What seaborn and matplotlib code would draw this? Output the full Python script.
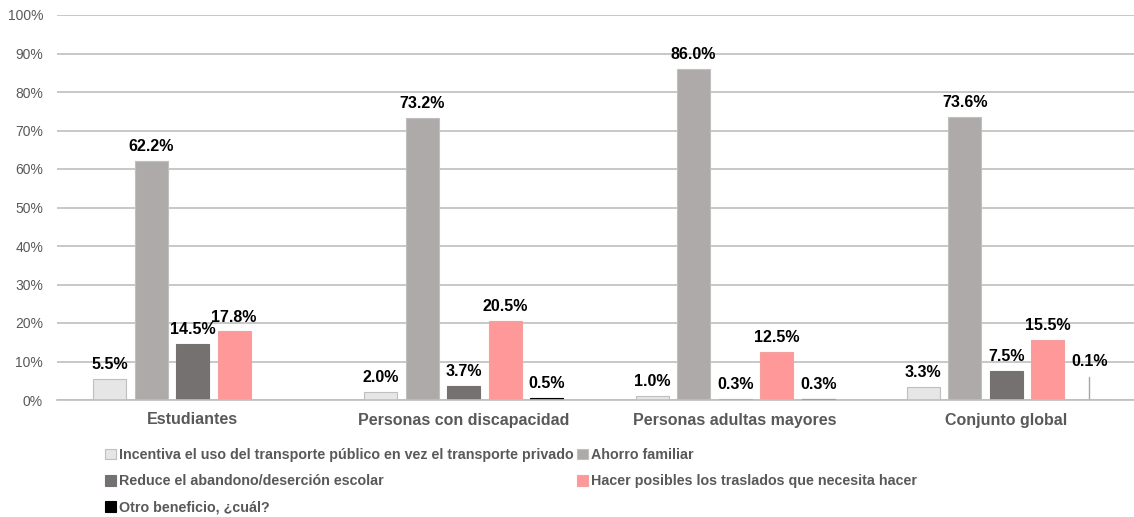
import pandas as pd
import seaborn as sns
import matplotlib.pyplot as plt

# Data (percent)
grupos = ['Estudiantes', 'Personas con discapacidad', 'Personas adultas mayores', 'Conjunto global']
beneficios = [
    'Incentiva el uso del transporte público en vez el transporte privado',
    'Ahorro familiar',
    'Reduce el abandono/deserción escolar',
    'Hacer posibles los traslados que necesita hacer',
    'Otro beneficio, ¿cuál?',
]
incentiva = [5.5, 2.0, 1.0, 3.3]
ahorro = [62.2, 73.2, 86.0, 73.6]
reduce = [14.5, 3.7, 0.3, 7.5]
traslados = [17.8, 20.5, 12.5, 15.5]
otro = [None, 0.5, 0.3, 0.1]

colores = ['#E7E6E6', '#AEAAAA', '#767171', '#FF9999', '#000000']
bordes = ['#BFBFBF', '#BFBFBF', '#767171', '#F2A0A0', '#000000']

rows = []
for serie, vals in zip(beneficios, [incentiva, ahorro, reduce, traslados, otro]):
    for g, v in zip(grupos, vals):
        rows.append({'grupo': g, 'beneficio': serie, 'valor': v})
df = pd.DataFrame(rows).dropna()

sns.set_style('white')
plt.rcParams['font.family'] = ['Liberation Sans', 'DejaVu Sans']

fig = plt.figure(figsize=(11.34, 5.17), dpi=100)
ax = fig.add_axes([57 / 1134, 1 - 400 / 517, (1142 - 57) / 1134, 385 / 517])

sns.barplot(data=df, x='grupo', y='valor', hue='beneficio', order=grupos,
            hue_order=beneficios, palette=colores, saturation=1, width=0.765, gap=0.2,
            linewidth=0.8, ax=ax, legend=True)

ax.set_xlim(-0.5, 3.5)
ax.set_ylim(0, 100)
ax.set_yticks(range(0, 101, 10))
ax.set_yticklabels([f'{t}%' for t in range(0, 101, 10)], fontsize=10, color='#595959')
ax.yaxis.grid(True, color='#BFBFBF', linewidth=1.2)
ax.set_axisbelow(True)
ax.tick_params(axis='both', length=0)
ax.tick_params(axis='y', pad=10)
ax.tick_params(axis='x', pad=9)
for lab in ax.get_xticklabels():
    lab.set_fontsize(11.5)
    lab.set_fontweight('bold')
    lab.set_color('#595959')
ax.set_xlabel('')
ax.set_ylabel('')
for s in ['top', 'left', 'right']:
    ax.spines[s].set_visible(False)
ax.spines['bottom'].set_color('#BFBFBF')
ax.spines['bottom'].set_linewidth(1.2)

# value labels
for i, cont in enumerate(ax.containers):
    for bar in cont:
        bar.set_edgecolor(bordes[i])
        h = bar.get_height()
        x = bar.get_x() + bar.get_width() / 2
        if i == 4 and h < 0.2:
            # tiny value: label lifted up with a leader line
            ax.annotate(f'{h:.1f}%', xy=(x, h), xytext=(x, h + 8),
                        ha='center', va='bottom', fontsize=11.5, fontweight='bold',
                        color='black')
            ax.plot([x, x], [h, 6.0], color='#A6A6A6', linewidth=1)
        else:
            ax.annotate(f'{h:.1f}%', xy=(x, h), xytext=(0, 5),
                        textcoords='offset points', ha='center', va='bottom',
                        fontsize=11.5, fontweight='bold', color='black')

handles, labels = ax.get_legend_handles_labels()
ax.get_legend().remove()
for k, hd in enumerate(handles):
    hd.set_edgecolor(bordes[k])
order = [0, 2, 4, 1, 3]
fig.legend([handles[k] for k in order], [labels[k] for k in order],
           loc='upper left', bbox_to_anchor=(98 / 1134, 1 - 441 / 517),
           ncol=2, frameon=False, borderpad=0, handlelength=0.75, handleheight=0.75,
           handletextpad=0.25, columnspacing=0.2, labelspacing=0.85,
           prop={'size': 10.3, 'weight': 'bold'}, labelcolor='#595959')

plt.savefig('out.png', dpi=100)
